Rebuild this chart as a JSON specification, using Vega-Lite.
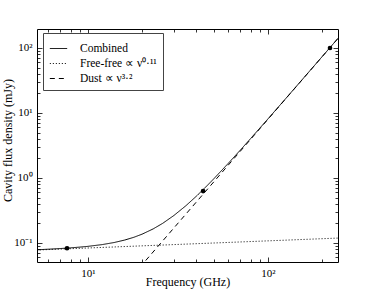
{
  "$schema": "https://vega.github.io/schema/vega-lite/v6.json",
  "width": 301,
  "height": 233,
  "autosize": "none",
  "padding": {"left": 37, "top": 29, "right": 39, "bottom": 29},
  "config": {
    "view": {"stroke": "black", "strokeWidth": 1},
    "font": "Liberation Serif",
    "axis": {
      "domain": false,
      "grid": false,
      "tickColor": "black",
      "tickWidth": 0.8,
      "labelColor": "black",
      "labelFontSize": 11,
      "titleColor": "black",
      "titleFontSize": 12,
      "titleFontWeight": "normal"
    },
    "legend": {
      "labelFontSize": 11.5,
      "labelColor": "black",
      "strokeColor": "#444444",
      "fillColor": "white",
      "padding": 6,
      "symbolStrokeColor": "black",
      "symbolStrokeWidth": 1
    }
  },
  "datasets": {
    "curves": [
      {"series": "Combined", "nu": 5, "flux": 0.0781},
      {"series": "Combined", "nu": 6, "flux": 0.0802},
      {"series": "Combined", "nu": 7, "flux": 0.0821},
      {"series": "Combined", "nu": 8, "flux": 0.0842},
      {"series": "Combined", "nu": 9, "flux": 0.0864},
      {"series": "Combined", "nu": 10, "flux": 0.0888},
      {"series": "Combined", "nu": 12, "flux": 0.0945},
      {"series": "Combined", "nu": 14, "flux": 0.1018},
      {"series": "Combined", "nu": 16, "flux": 0.111},
      {"series": "Combined", "nu": 18, "flux": 0.1225},
      {"series": "Combined", "nu": 20, "flux": 0.1369},
      {"series": "Combined", "nu": 23, "flux": 0.1645},
      {"series": "Combined", "nu": 26, "flux": 0.2006},
      {"series": "Combined", "nu": 30, "flux": 0.2647},
      {"series": "Combined", "nu": 35, "flux": 0.3747},
      {"series": "Combined", "nu": 40, "flux": 0.5247},
      {"series": "Combined", "nu": 45, "flux": 0.7214},
      {"series": "Combined", "nu": 50, "flux": 0.9724},
      {"series": "Combined", "nu": 60, "flux": 1.666},
      {"series": "Combined", "nu": 70, "flux": 2.664},
      {"series": "Combined", "nu": 80, "flux": 4.031},
      {"series": "Combined", "nu": 100, "flux": 8.125},
      {"series": "Combined", "nu": 120, "flux": 14.48},
      {"series": "Combined", "nu": 150, "flux": 29.46},
      {"series": "Combined", "nu": 200, "flux": 73.79},
      {"series": "Combined", "nu": 250, "flux": 150.5},
      {"series": "Free-free ∝ ν⁰·¹¹", "nu": 5, "flux": 0.0776},
      {"series": "Free-free ∝ ν⁰·¹¹", "nu": 250, "flux": 0.1193},
      {"series": "Dust ∝ ν³·²", "nu": 18, "flux": 0.0332},
      {"series": "Dust ∝ ν³·²", "nu": 250, "flux": 150.4}
    ],
    "obs": [
      {"nu": 7.65, "flux": 0.083, "lo": 0.078, "hi": 0.088},
      {"nu": 43.6, "flux": 0.63, "lo": 0.59, "hi": 0.67},
      {"nu": 221, "flux": 100, "lo": 96, "hi": 104}
    ]
  },
  "layer": [
    {
      "data": {"name": "curves"},
      "mark": {"type": "line", "clip": true, "color": "black", "strokeWidth": 1},
      "encoding": {
        "x": {
          "field": "nu", "type": "quantitative",
          "scale": {"type": "log", "domain": [5.21, 244.8], "nice": false},
          "axis": {
            "orient": "bottom",
            "title": "Frequency (GHz)",
            "titlePadding": -2,
            "values": [6, 7, 8, 9, 10, 20, 30, 40, 50, 60, 70, 80, 90, 100, 200],
            "labelExpr": "datum.value == 10 ? '10¹' : datum.value == 100 ? '10²' : ''",
            "labelPadding": 10,
            "tickSize": {"condition": {"test": "datum.value == 10 || datum.value == 100", "value": -5}, "value": -3}
          }
        },
        "y": {
          "field": "flux", "type": "quantitative",
          "scale": {"type": "log", "domain": [0.051, 196], "nice": false},
          "axis": {
            "orient": "left",
            "title": "Cavity flux density (mJy)",
            "titleX": -35,
            "titleY": 111,
            "titleAngle": 270,
            "titleAlign": "center",
            "titleBaseline": "top",
            "values": [0.06, 0.07, 0.08, 0.09, 0.1, 0.2, 0.3, 0.4, 0.5, 0.6, 0.7, 0.8, 0.9, 1, 2, 3, 4, 5, 6, 7, 8, 9, 10, 20, 30, 40, 50, 60, 70, 80, 90, 100],
            "labelExpr": "datum.value == 100 ? '10²' : datum.value == 10 ? '10¹' : datum.value == 1 ? '10⁰' : datum.value == 0.1 ? '10⁻¹' : ''",
            "labelPadding": 10,
            "tickSize": {"condition": {"test": "datum.value == 0.1 || datum.value == 1 || datum.value == 10 || datum.value == 100", "value": -5}, "value": -3}
          }
        },
        "strokeDash": {
          "field": "series", "type": "nominal",
          "scale": {
            "domain": ["Combined", "Free-free ∝ ν⁰·¹¹", "Dust ∝ ν³·²"],
            "range": [[1, 0], [1, 2], [5, 4]]
          },
          "legend": {
            "title": null,
            "orient": "none",
            "legendX": 6,
            "legendY": 4,
            "symbolType": "stroke",
            "symbolSize": 300,
            "labelOffset": 12,
            "rowPadding": 0
          }
        }
      }
    },
    {
      "data": {"name": "obs"},
      "mark": {"type": "rule", "color": "black", "strokeWidth": 1},
      "encoding": {
        "x": {"field": "nu", "type": "quantitative", "axis": null},
        "y": {"field": "lo", "type": "quantitative", "axis": null},
        "y2": {"field": "hi"}
      }
    },
    {
      "data": {"name": "obs"},
      "mark": {"type": "point", "filled": true, "color": "black", "size": 22, "opacity": 1},
      "encoding": {
        "x": {"field": "nu", "type": "quantitative", "axis": null},
        "y": {"field": "flux", "type": "quantitative", "axis": null}
      }
    },
    {
      "data": {"name": "obs"},
      "mark": {"type": "point", "opacity": 0},
      "encoding": {
        "x": {
          "field": "nu", "type": "quantitative",
          "axis": {
            "orient": "top",
            "title": null,
            "labels": false,
            "values": [6, 7, 8, 9, 10, 20, 30, 40, 50, 60, 70, 80, 90, 100, 200],
            "tickSize": {"condition": {"test": "datum.value == 10 || datum.value == 100", "value": -5}, "value": -3}
          }
        },
        "y": {
          "field": "flux", "type": "quantitative",
          "axis": {
            "orient": "right",
            "title": null,
            "labels": false,
            "values": [0.06, 0.07, 0.08, 0.09, 0.1, 0.2, 0.3, 0.4, 0.5, 0.6, 0.7, 0.8, 0.9, 1, 2, 3, 4, 5, 6, 7, 8, 9, 10, 20, 30, 40, 50, 60, 70, 80, 90, 100],
            "tickSize": {"condition": {"test": "datum.value == 0.1 || datum.value == 1 || datum.value == 10 || datum.value == 100", "value": -5}, "value": -3}
          }
        }
      }
    }
  ],
  "resolve": {"axis": {"x": "independent", "y": "independent"}}
}
